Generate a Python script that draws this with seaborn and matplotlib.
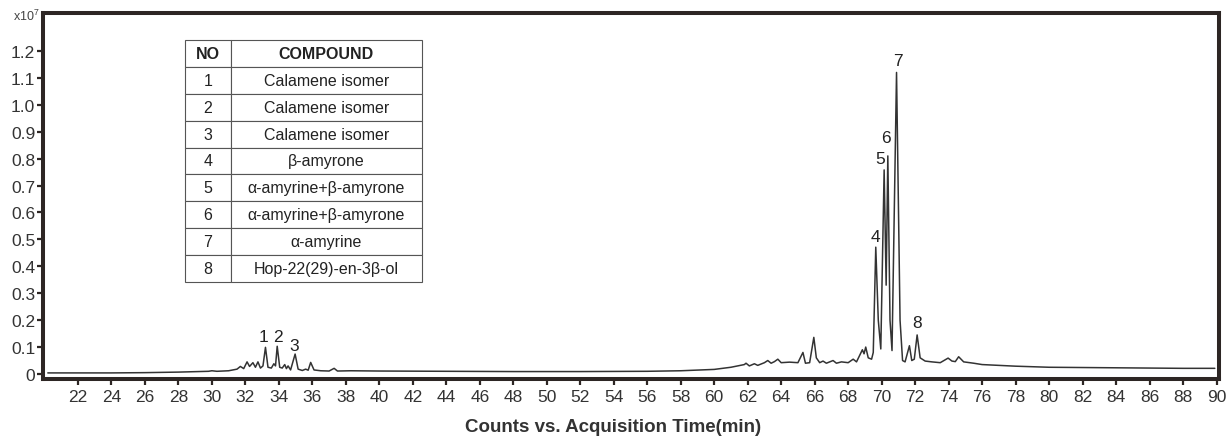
import numpy as np
import pandas as pd
import seaborn as sns
import matplotlib.pyplot as plt

# chromatogram trace (time in min, counts in 1e7)
time = [20.2, 22, 24, 26, 28, 29.8, 30.0, 30.3, 31.0, 31.5, 31.7, 31.9, 32.1, 32.25,
        32.45, 32.6, 32.75, 32.9, 33.05, 33.2, 33.35, 33.55, 33.7, 33.8, 33.9, 34.05,
        34.2, 34.35, 34.45, 34.55, 34.7, 34.97, 35.15, 35.4, 35.6, 35.75, 35.9, 36.1,
        36.5, 37.0, 37.3, 37.5, 38.3, 40, 44, 48, 52, 56, 58, 60, 61, 61.8, 61.9, 62.1,
        62.4, 62.6, 63.0, 63.2, 63.4, 63.6, 63.8, 64.0, 64.5, 65.0, 65.3, 65.45, 65.7,
        65.95, 66.1, 66.3, 66.5, 66.7, 67.1, 67.3, 67.6, 68.0, 68.3, 68.5, 68.85, 68.95,
        69.05, 69.2, 69.4, 69.5, 69.65, 69.8, 69.95, 70.15, 70.27, 70.37, 70.5, 70.62,
        70.89, 71.1, 71.25, 71.4, 71.66, 71.8, 71.95, 72.12, 72.3, 72.6, 73.0, 73.5,
        73.97, 74.2, 74.4, 74.6, 74.9, 75.5, 76, 78, 80, 84, 88, 89.9]
counts = [0.004, 0.004, 0.004, 0.005, 0.007, 0.010, 0.012, 0.010, 0.012, 0.018, 0.028,
          0.020, 0.045, 0.028, 0.042, 0.025, 0.045, 0.022, 0.030, 0.099, 0.025, 0.022,
          0.038, 0.030, 0.103, 0.025, 0.022, 0.035, 0.020, 0.030, 0.015, 0.074, 0.018,
          0.013, 0.018, 0.014, 0.043, 0.015, 0.012, 0.011, 0.021, 0.011, 0.012, 0.011,
          0.010, 0.009, 0.009, 0.010, 0.012, 0.017, 0.025, 0.035, 0.040, 0.030, 0.038,
          0.032, 0.042, 0.050, 0.040, 0.046, 0.055, 0.042, 0.044, 0.042, 0.080, 0.040,
          0.042, 0.136, 0.060, 0.042, 0.048, 0.040, 0.050, 0.040, 0.045, 0.042, 0.055,
          0.045, 0.090, 0.075, 0.100, 0.060, 0.055, 0.080, 0.471, 0.200, 0.093, 0.758,
          0.330, 0.810, 0.200, 0.087, 1.120, 0.200, 0.050, 0.045, 0.105, 0.050, 0.055,
          0.145, 0.060, 0.048, 0.045, 0.042, 0.059, 0.048, 0.046, 0.064, 0.045, 0.040,
          0.035, 0.029, 0.025, 0.023, 0.021, 0.021]

# peak numbers and where they sit
peak_no = ['1', '2', '3', '4', '5', '6', '7', '8']
peak_x = [33.1, 33.93, 34.93, 69.63, 69.9, 70.25, 70.96, 72.12]
peak_y = [0.139, 0.139, 0.105, 0.512, 0.80, 0.88, 1.164, 0.192]

# compound table
compounds = ['Calamene isomer', 'Calamene isomer', 'Calamene isomer', 'β-amyrone',
             'α-amyrine+β-amyrone', 'α-amyrine+β-amyrone', 'α-amyrine',
             'Hop-22(29)-en-3β-ol']

xticks = list(range(22, 91, 2))
yticks = [round(0.1 * i, 1) for i in range(13)]

sns.set_style('white')
plt.rcParams['font.family'] = ['Liberation Sans', 'DejaVu Sans']
plt.rcParams['mathtext.default'] = 'regular'

df = pd.DataFrame({'time': time, 'counts': counts})

fig = plt.figure(figsize=(12.26, 4.39), dpi=100)
ax = fig.add_axes([0.0349, 0.1333, 0.9594, 0.8337])
sns.lineplot(data=df, x='time', y='counts', ax=ax, color='#333333', linewidth=1.1)

ax.set_xlim(19.9, 90.15)
ax.set_ylim(-0.0204, 1.339)
ax.set_xticks(xticks)
ax.set_yticks(yticks)
ax.set_yticklabels(['0' if v == 0 else f'{v:.1f}' for v in yticks])

spine_col = '#2d2624'
for s in ax.spines.values():
    s.set_color(spine_col)
    s.set_linewidth(2.9)
ax.tick_params(axis='both', direction='out', length=4.5, width=1.6, color=spine_col,
               labelsize=12.5, labelcolor='#333333', pad=1, bottom=True, left=True)
ax.tick_params(axis='x', pad=2.5)

ax.set_xlabel('Counts vs. Acquisition Time(min)', fontsize=13.5, fontweight='bold',
              color='#333333')
ax.xaxis.set_label_coords(0.485, -0.105)
ax.set_ylabel('')
ax.text(-0.003, 0.995, 'x10$^{7}$', transform=ax.transAxes, ha='right', va='center',
        fontsize=9, color='#444444')

for n, x, y in zip(peak_no, peak_x, peak_y):
    ax.text(x, y, n, ha='center', va='center', fontsize=12.5, color='#222222')

rows = [[str(i + 1), c] for i, c in enumerate(compounds)]
tbl = ax.table(cellText=rows, colLabels=['NO', 'COMPOUND'], cellLoc='center',
               colWidths=[0.194, 0.806], bbox=[0.1209, 0.2664, 0.2015, 0.6612])
tbl.auto_set_font_size(False)
for (r, c), cell in tbl.get_celld().items():
    cell.set_edgecolor('#555555')
    cell.set_linewidth(0.8)
    cell.get_text().set_fontsize(11.5)
    cell.get_text().set_color('#222222')
    if r == 0:
        cell.get_text().set_fontweight('bold')

fig.savefig('out.png', dpi=100)
